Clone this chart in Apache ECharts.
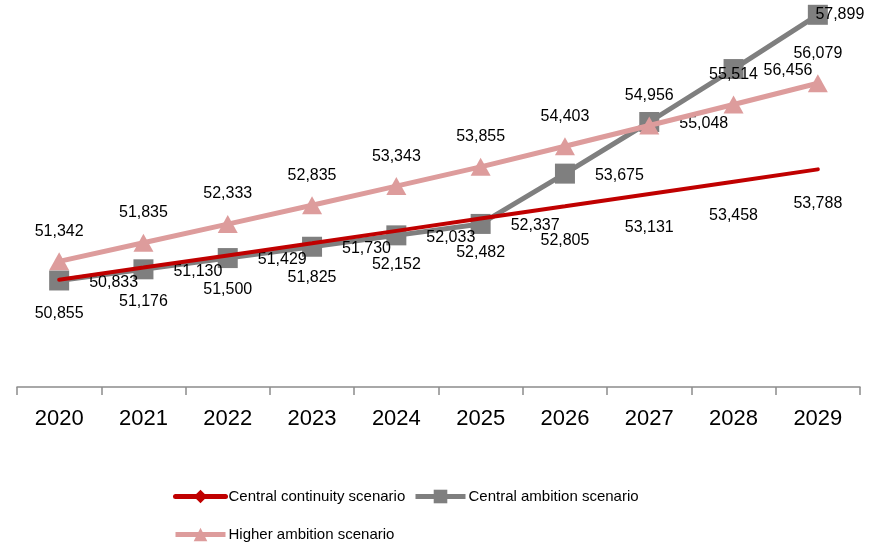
<!DOCTYPE html>
<html>
<head>
<meta charset="utf-8">
<script src="https://cdn.jsdelivr.net/npm/echarts@6/dist/echarts.min.js"></script>
<style>
  html, body { margin: 0; padding: 0; background: #fff; }
  #chart { width: 880px; height: 545px; }
</style>
</head>
<body>
<div id="chart"></div>
<script>
// Years on the horizontal axis
const years = ['2020', '2021', '2022', '2023', '2024', '2025', '2026', '2027', '2028', '2029'];

// Scenario values
const centralContinuity = [50855, 51176, 51500, 51825, 52152, 52482, 52805, 53131, 53458, 53788];
const centralAmbition   = [50833, 51130, 51429, 51730, 52033, 52337, 53675, 55048, 56456, 57899];
const higherAmbition    = [51342, 51835, 52333, 52835, 53343, 53855, 54403, 54956, 55514, 56079];

const seriesNames = ['Central continuity scenario', 'Central ambition scenario', 'Higher ambition scenario'];

const FONT = 'Liberation Sans';
const fmt = v => Number(v).toLocaleString('en-US');

const labelBase = {
  show: true,
  color: '#000',
  fontFamily: FONT,
  fontSize: 16,
  formatter: p => fmt(p.value)
};

// The last ambition label sits over its marker, kept inside the plot
const ambitionData = centralAmbition.map((v, i) =>
  i === centralAmbition.length - 1
    ? { value: v, label: { position: 'inside', offset: [22, 0] } }
    : v
);

const legendBase = {
  itemWidth: 50,
  itemHeight: 17,
  lineStyle: { width: 5 },
  textStyle: { fontFamily: FONT, fontSize: 15, color: '#000', padding: [0, 0, 0, -2] }
};

const chart = echarts.init(document.getElementById('chart'), null, { renderer: 'canvas' });

chart.setOption({
  animation: false,
  backgroundColor: '#fff',
  grid: { left: 17, right: 20, top: 11, bottom: 158, containLabel: false },
  xAxis: {
    type: 'category',
    data: years,
    boundaryGap: true,
    axisLine: { lineStyle: { color: '#8c8c8c', width: 1.5 } },
    axisTick: { show: true, length: 8, lineStyle: { color: '#8c8c8c', width: 1.5 } },
    axisLabel: { color: '#000', fontFamily: FONT, fontSize: 22, margin: 21 },
    splitLine: { show: false }
  },
  yAxis: {
    type: 'value',
    min: 48000,
    max: 58000,
    show: false,
    splitLine: { show: false }
  },
  legend: [
    Object.assign({ data: [seriesNames[0]], left: 168, top: 484 }, legendBase),
    Object.assign({ data: [seriesNames[1]], left: 408, top: 484 }, legendBase),
    Object.assign({ data: [seriesNames[2]], left: 168, top: 522 }, legendBase)
  ],
  series: [
    {
      name: seriesNames[0],
      type: 'line',
      data: centralContinuity,
      symbol: 'diamond',
      symbolSize: 0,
      showSymbol: true,
      lineStyle: { color: '#C00000', width: 4, cap: 'round' },
      itemStyle: { color: '#C00000' },
      label: Object.assign({}, labelBase, { position: 'bottom', distance: 26 }),
      z: 3
    },
    {
      name: seriesNames[1],
      type: 'line',
      data: ambitionData,
      symbol: 'rect',
      symbolSize: 20,
      lineStyle: { color: '#7F7F7F', width: 5 },
      itemStyle: { color: '#7F7F7F' },
      label: Object.assign({}, labelBase, { position: 'right', distance: 20, offset: [0, 2] }),
      z: 2
    },
    {
      name: seriesNames[2],
      type: 'line',
      data: higherAmbition,
      symbol: 'triangle',
      symbolSize: [20, 18],
      lineStyle: { color: '#DD9C9C', width: 5 },
      itemStyle: { color: '#DD9C9C' },
      label: Object.assign({}, labelBase, { position: 'top', distance: 13 }),
      z: 4
    }
  ]
});
</script>
</body>
</html>
